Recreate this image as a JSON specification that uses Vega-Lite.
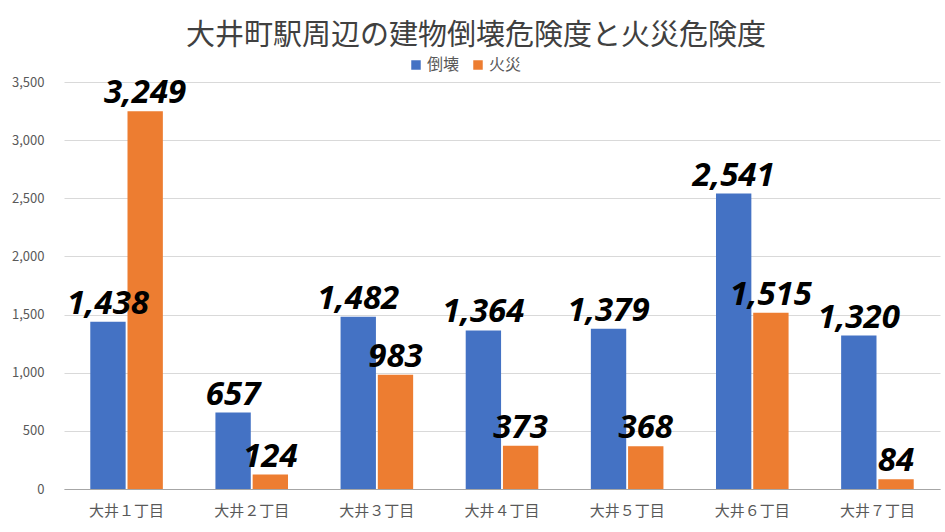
{
  "$schema": "https://vega.github.io/schema/vega-lite/v6.json",
  "autosize": "none",
  "width": 876,
  "height": 407,
  "padding": {"left": 64, "top": 82, "right": 5, "bottom": 43},
  "background": "white",
  "title": {
    "text": "大井町駅周辺の建物倒壊危険度と火災危険度",
    "font": "Noto Sans CJK JP",
    "fontSize": 29,
    "fontWeight": "normal",
    "color": "#404040",
    "anchor": "middle",
    "frame": "group",
    "dx": -26,
    "offset": 6
  },
  "config": {
    "view": {"stroke": null},
    "font": "Noto Sans CJK JP"
  },
  "data": {
    "values": [
      {"地区": "大井１丁目", "種別": "倒壊", "値": 1438},
      {"地区": "大井１丁目", "種別": "火災", "値": 3249},
      {"地区": "大井２丁目", "種別": "倒壊", "値": 657},
      {"地区": "大井２丁目", "種別": "火災", "値": 124},
      {"地区": "大井３丁目", "種別": "倒壊", "値": 1482},
      {"地区": "大井３丁目", "種別": "火災", "値": 983},
      {"地区": "大井４丁目", "種別": "倒壊", "値": 1364},
      {"地区": "大井４丁目", "種別": "火災", "値": 373},
      {"地区": "大井５丁目", "種別": "倒壊", "値": 1379},
      {"地区": "大井５丁目", "種別": "火災", "値": 368},
      {"地区": "大井６丁目", "種別": "倒壊", "値": 2541},
      {"地区": "大井６丁目", "種別": "火災", "値": 1515},
      {"地区": "大井７丁目", "種別": "倒壊", "値": 1320},
      {"地区": "大井７丁目", "種別": "火災", "値": 84}
    ]
  },
  "encoding": {
    "x": {
      "field": "地区",
      "type": "nominal",
      "sort": null,
      "scale": {"paddingInner": 0.42, "paddingOuter": 0.21},
      "axis": {
        "title": null,
        "labelAngle": 0,
        "labelFontSize": 15,
        "labelColor": "#595959",
        "labelPadding": 14,
        "ticks": false,
        "domainColor": "#a6a6a6",
        "domainWidth": 1
      }
    },
    "xOffset": {
      "field": "種別",
      "type": "nominal",
      "sort": ["倒壊", "火災"],
      "scale": {"paddingInner": 0.05}
    },
    "y": {
      "field": "値",
      "type": "quantitative",
      "scale": {"domain": [0, 3500], "nice": false},
      "axis": {
        "title": null,
        "values": [0, 500, 1000, 1500, 2000, 2500, 3000, 3500],
        "format": ",.0f",
        "labelFontSize": 13,
        "labelColor": "#595959",
        "labelPadding": 20,
        "ticks": false,
        "domain": false,
        "gridColor": "#d9d9d9",
        "gridWidth": 1
      }
    }
  },
  "layer": [
    {
      "mark": {"type": "bar"},
      "encoding": {
        "color": {
          "field": "種別",
          "type": "nominal",
          "sort": ["倒壊", "火災"],
          "scale": {"domain": ["倒壊", "火災"], "range": ["#4472C4", "#ED7D31"]},
          "legend": {
            "title": null,
            "orient": "none",
            "direction": "horizontal",
            "legendX": 344,
            "legendY": -25,
            "symbolType": "square",
            "symbolSize": 90,
            "symbolStrokeWidth": 0,
            "labelFontSize": 16,
            "labelColor": "#595959",
            "labelOffset": 3,
            "columnPadding": 10
          }
        }
      }
    },
    {
      "mark": {
        "type": "text",
        "baseline": "bottom",
        "dy": -1,
        "font": "Open Sans",
        "fontSize": 33,
        "fontWeight": "bold",
        "fontStyle": "italic",
        "color": "#000000"
      },
      "encoding": {
        "text": {"field": "値", "type": "quantitative", "format": ",.0f"}
      }
    }
  ]
}
